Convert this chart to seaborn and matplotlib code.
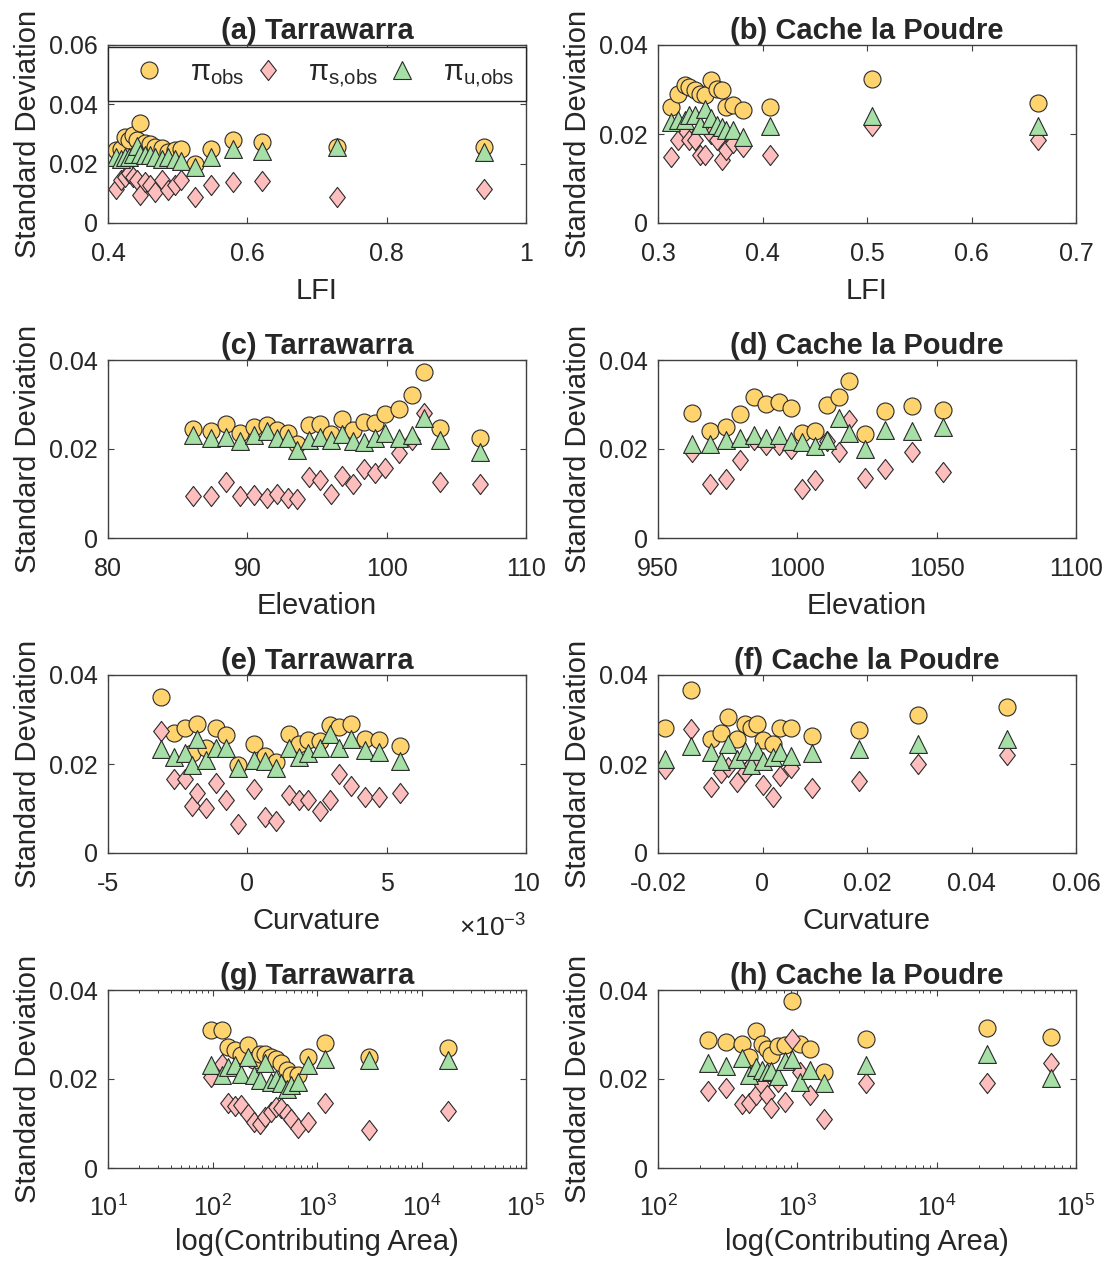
import numpy as np
import pandas as pd
import matplotlib
matplotlib.use("Agg")
import matplotlib.pyplot as plt
import seaborn as sns
from matplotlib.path import Path
from matplotlib.lines import Line2D
from matplotlib.ticker import FuncFormatter, FixedLocator, LogLocator, NullFormatter

# ---------------- data ----------------
# (a) Tarrawarra - LFI
a_x = [0.412, 0.418, 0.424, 0.430, 0.436, 0.442, 0.446, 0.453, 0.460, 0.467,
       0.477, 0.486, 0.496, 0.505, 0.525, 0.548, 0.579, 0.621, 0.728, 0.939]
a_obs = [0.0245, 0.0251, 0.0290, 0.0280, 0.0296, 0.0280, 0.0336, 0.0268, 0.0266, 0.0257,
         0.0254, 0.0240, 0.0245, 0.0251, 0.0200, 0.0251, 0.0279, 0.0274, 0.0257, 0.0257]
a_s = [0.0116, 0.0144, 0.0155, 0.0167, 0.0155, 0.0144, 0.0093, 0.0138, 0.0127, 0.0105,
       0.0144, 0.0110, 0.0127, 0.0144, 0.0088, 0.0127, 0.0138, 0.0142, 0.0086, 0.0116]
a_u = [0.0223, 0.0217, 0.0223, 0.0223, 0.0234, 0.0259, 0.0234, 0.0229, 0.0229, 0.0223,
       0.0217, 0.0223, 0.0217, 0.0209, 0.0189, 0.0223, 0.0251, 0.0243, 0.0257, 0.0240]

# (b) Cache la Poudre - LFI
b_x = [0.312, 0.319, 0.3255, 0.330, 0.335, 0.340, 0.345, 0.351, 0.356, 0.361,
       0.365, 0.372, 0.381, 0.407, 0.505, 0.664]
b_obs = [0.0261, 0.0291, 0.0310, 0.0306, 0.0299, 0.0291, 0.0287, 0.0321, 0.0302, 0.0299,
         0.0261, 0.0265, 0.0255, 0.0261, 0.0323, 0.0269]
b_s = [0.0149, 0.0186, 0.0209, 0.0186, 0.0186, 0.0152, 0.0152, 0.0201, 0.0186, 0.0141,
       0.0164, 0.0179, 0.0170, 0.0152, 0.0218, 0.0186]
b_u = [0.0227, 0.0231, 0.0231, 0.0242, 0.0242, 0.0220, 0.0257, 0.0235, 0.0220, 0.0215,
       0.0210, 0.0209, 0.0194, 0.0218, 0.0240, 0.0218]

# (c) Tarrawarra - Elevation
c_x = [86.1, 87.4, 88.45, 89.5, 90.5, 91.4, 92.1, 92.9, 93.6, 94.4, 95.2,
       96.0, 96.8, 97.6, 98.4, 99.15, 99.9, 100.9, 101.8, 102.7, 103.8, 106.7]
c_obs = [0.0246, 0.0240, 0.0256, 0.0235, 0.0250, 0.0254, 0.0242, 0.0237, 0.0212, 0.0255, 0.0257,
         0.0233, 0.0267, 0.0242, 0.0260, 0.0259, 0.0278, 0.0290, 0.0321, 0.0374, 0.0248, 0.0224]
c_s = [0.0094, 0.0094, 0.0126, 0.0094, 0.0096, 0.0089, 0.0098, 0.0090, 0.0087, 0.0137, 0.0130,
       0.0098, 0.0140, 0.0122, 0.0156, 0.0145, 0.0158, 0.0190, 0.0220, 0.0282, 0.0125, 0.0122]
c_u = [0.0231, 0.0224, 0.0227, 0.0218, 0.0231, 0.0240, 0.0225, 0.0224, 0.0197, 0.0220, 0.0227,
       0.0220, 0.0233, 0.0218, 0.0215, 0.0224, 0.0235, 0.0225, 0.0231, 0.0269, 0.0220, 0.0194]

# (d) Cache la Poudre - Elevation
d_x = [962.3, 968.6, 974.5, 979.3, 984.4, 988.7, 993.5, 997.8, 1001.8, 1006.5,
       1010.7, 1014.9, 1018.6, 1024.2, 1031.6, 1041.2, 1052.1]
d_obs = [0.0280, 0.0240, 0.0250, 0.0278, 0.0317, 0.0302, 0.0306, 0.0293, 0.0236, 0.0240,
         0.0300, 0.0317, 0.0353, 0.0233, 0.0285, 0.0297, 0.0287]
d_s = [0.0194, 0.0122, 0.0132, 0.0175, 0.0220, 0.0210, 0.0209, 0.0201, 0.0110, 0.0130,
       0.0218, 0.0194, 0.0265, 0.0134, 0.0156, 0.0194, 0.0149]
d_u = [0.0212, 0.0212, 0.0220, 0.0224, 0.0231, 0.0225, 0.0231, 0.0218, 0.0215, 0.0207,
       0.0220, 0.0270, 0.0235, 0.0200, 0.0242, 0.0240, 0.0250]

# (e) Tarrawarra - Curvature (x10^-3)
e_x = [-3.109, -2.642, -2.247, -1.972, -1.792, -1.469, -1.134, -0.775, -0.332, 0.231, 0.650,
       1.045, 1.488, 1.847, 2.182, 2.625, 2.960, 3.295, 3.738, 4.217, 4.732, 5.474]
e_obs = [0.0351, 0.0269, 0.0280, 0.0224, 0.0290, 0.0235, 0.0282, 0.0265, 0.0197, 0.0246, 0.0218,
         0.0205, 0.0267, 0.0245, 0.0254, 0.0252, 0.0287, 0.0284, 0.0290, 0.0257, 0.0254, 0.0240]
e_s = [0.0275, 0.0167, 0.0167, 0.0105, 0.0135, 0.0102, 0.0158, 0.0119, 0.0065, 0.0143, 0.0080,
       0.0072, 0.0130, 0.0119, 0.0120, 0.0095, 0.0120, 0.0177, 0.0150, 0.0125, 0.0126, 0.0134]
e_u = [0.0233, 0.0215, 0.0224, 0.0197, 0.0257, 0.0210, 0.0235, 0.0237, 0.0190, 0.0209, 0.0207,
       0.0192, 0.0237, 0.0215, 0.0225, 0.0235, 0.0267, 0.0235, 0.0257, 0.0231, 0.0227, 0.0207]

# (f) Cache la Poudre - Curvature
f_x = [-0.01872, -0.01362, -0.00978, -0.00787, -0.00659, -0.00487, -0.00340, -0.00212, -0.00104,
       0.00011, 0.00203, 0.00331, 0.00554, 0.00956, 0.0185, 0.0298, 0.0467]
f_obs = [0.0282, 0.0366, 0.0257, 0.0269, 0.0306, 0.0257, 0.0291, 0.0280, 0.0290,
         0.0254, 0.0245, 0.0280, 0.0280, 0.0263, 0.0276, 0.0310, 0.0327]
f_s = [0.0188, 0.0278, 0.0149, 0.0179, 0.0194, 0.0160, 0.0182, 0.0197, 0.0209,
       0.0152, 0.0126, 0.0173, 0.0190, 0.0145, 0.0162, 0.0200, 0.0220]
f_u = [0.0212, 0.0240, 0.0227, 0.0207, 0.0246, 0.0212, 0.0230, 0.0197, 0.0230,
       0.0207, 0.0215, 0.0227, 0.0218, 0.0225, 0.0233, 0.0245, 0.0257]

# (g) Tarrawarra - Contributing area
g_x = [97.8, 124, 141, 163, 189, 219, 248, 284, 316, 359, 403, 457, 511, 570, 661, 823,
       1189, 3160, 18030]
g_obs = [0.0310, 0.0310, 0.0272, 0.0265, 0.0254, 0.0276, 0.0242, 0.0257, 0.0257, 0.0250,
         0.0246, 0.0235, 0.0220, 0.0210, 0.0209, 0.0250, 0.0280, 0.0250, 0.0269]
g_s = [0.0205, 0.0233, 0.0145, 0.0140, 0.0141, 0.0122, 0.0104, 0.0100, 0.0115, 0.0126,
       0.0137, 0.0134, 0.0122, 0.0111, 0.0089, 0.0104, 0.0145, 0.0085, 0.0128]
g_u = [0.0231, 0.0210, 0.0227, 0.0231, 0.0212, 0.0250, 0.0209, 0.0197, 0.0235, 0.0194,
       0.0201, 0.0190, 0.0177, 0.0186, 0.0194, 0.0231, 0.0246, 0.0242, 0.0242]

# (h) Cache la Poudre - Contributing area
h_x = [229, 310, 403, 451, 509, 561, 606, 652, 728, 812, 922, 1053, 1242, 1548, 3105,
       22800, 65800]
h_obs = [0.0287, 0.0284, 0.0278, 0.0250, 0.0308, 0.0278, 0.0267, 0.0254, 0.0274, 0.0276,
         0.0375, 0.0278, 0.0267, 0.0215, 0.0291, 0.0315, 0.0295]
h_s = [0.0173, 0.0179, 0.0143, 0.0145, 0.0164, 0.0186, 0.0164, 0.0135, 0.0194, 0.0149,
       0.0291, 0.0216, 0.0165, 0.0111, 0.0192, 0.0192, 0.0235]
h_u = [0.0235, 0.0230, 0.0248, 0.0209, 0.0227, 0.0220, 0.0216, 0.0218, 0.0207, 0.0240,
       0.0245, 0.0194, 0.0220, 0.0190, 0.0231, 0.0257, 0.0203]

titles = ["(a) Tarrawarra", "(b) Cache la Poudre", "(c) Tarrawarra", "(d) Cache la Poudre",
          "(e) Tarrawarra", "(f) Cache la Poudre", "(g) Tarrawarra", "(h) Cache la Poudre"]
xlabels = ["LFI", "LFI", "Elevation", "Elevation", "Curvature", "Curvature",
           "log(Contributing Area)", "log(Contributing Area)"]
legend_labels = [r"$\pi_{\mathrm{obs}}$", r"$\pi_{\mathrm{s{,}obs}}$", r"$\pi_{\mathrm{u{,}obs}}$"]

# ---------------- style ----------------
sns.set_style("ticks")
TXT = "#262626"
plt.rcParams.update({
    "font.family": ["Liberation Sans", "DejaVu Sans"],
    "mathtext.fontset": "custom",
    "mathtext.rm": "Liberation Sans",
    "mathtext.it": "Liberation Sans",
    "mathtext.bf": "Liberation Sans:bold",
    "xtick.direction": "in", "ytick.direction": "in",
    "xtick.top": True, "ytick.right": True,
    "xtick.bottom": True, "ytick.left": True,
    "xtick.major.size": 4, "ytick.major.size": 4,
    "xtick.minor.size": 2.2, "ytick.minor.size": 2.2,
    "xtick.major.width": 0.8, "ytick.major.width": 0.8,
    "xtick.minor.width": 0.7,
    "xtick.color": "#404040", "ytick.color": "#404040",
    "xtick.labelcolor": TXT, "ytick.labelcolor": TXT,
    "axes.edgecolor": "#404040", "axes.linewidth": 1.0,
    "axes.labelcolor": TXT, "text.color": TXT,
})

C_OBS = "#FFD36E"
C_S = "#FFBEBE"
C_U = "#A6E0A6"
EDGE = "#2a2a2a"
DIAMOND = Path([(0, 1), (0.78, 0), (0, -1), (-0.78, 0), (0, 1)],
               [Path.MOVETO, Path.LINETO, Path.LINETO, Path.LINETO, Path.CLOSEPOLY])
S_OBS, S_S, S_U = 150, 210, 165

fig = plt.figure(figsize=(11.07, 12.62), dpi=100)
W, H = 1107, 1262
lefts = [108, 658]
tops = [45, 360, 675, 990]
aw, ah = 418, 178

panels = [
    (a_x, a_obs, a_s, a_u, (0.4, 1.0), [0.4, 0.6, 0.8, 1.0], False, 0.06),
    (b_x, b_obs, b_s, b_u, (0.3, 0.7), [0.3, 0.4, 0.5, 0.6, 0.7], False, 0.04),
    (c_x, c_obs, c_s, c_u, (80, 110), [80, 90, 100, 110], False, 0.04),
    (d_x, d_obs, d_s, d_u, (950, 1100), [950, 1000, 1050, 1100], False, 0.04),
    (e_x, e_obs, e_s, e_u, (-5, 10), [-5, 0, 5, 10], False, 0.04),
    (f_x, f_obs, f_s, f_u, (-0.02, 0.06), [-0.02, 0, 0.02, 0.04, 0.06], False, 0.04),
    (g_x, g_obs, g_s, g_u, (10, 1e5), None, True, 0.04),
    (h_x, h_obs, h_s, h_u, (100, 1e5), None, True, 0.04),
]

fmt = FuncFormatter(lambda v, p: "%g" % round(v, 6))

for i, (x, obs, s, u, xlim, xticks, logx, ymax) in enumerate(panels):
    r, c = divmod(i, 2)
    ax = fig.add_axes([lefts[c] / W, 1 - (tops[r] + ah) / H, aw / W, ah / H])
    if logx:
        ax.set_xscale("log")
    df = pd.DataFrame({"x": x, "obs": obs, "s": s, "u": u})
    sns.scatterplot(data=df, x="x", y="obs", ax=ax, marker="o", s=S_OBS, color=C_OBS,
                    edgecolor=EDGE, linewidth=0.8, legend=False, zorder=3)
    sns.scatterplot(data=df, x="x", y="s", ax=ax, marker=DIAMOND, s=S_S, color=C_S,
                    edgecolor=EDGE, linewidth=0.8, legend=False, zorder=4)
    sns.scatterplot(data=df, x="x", y="u", ax=ax, marker="^", s=S_U, color=C_U,
                    edgecolor=EDGE, linewidth=0.8, legend=False, zorder=5)
    ax.set_xlim(*xlim)
    ax.set_ylim(0, ymax)
    yt = [0, 0.02, 0.04, 0.06] if ymax > 0.05 else [0, 0.02, 0.04]
    ax.yaxis.set_major_locator(FixedLocator(yt))
    ax.yaxis.set_major_formatter(fmt)
    if logx:
        ax.xaxis.set_major_locator(LogLocator(base=10, numticks=10))
        ax.xaxis.set_minor_locator(LogLocator(base=10, subs=np.arange(2, 10), numticks=20))
        ax.xaxis.set_minor_formatter(NullFormatter())
        xpad, lpad = 19, 5
    else:
        ax.xaxis.set_major_locator(FixedLocator(xticks))
        ax.xaxis.set_major_formatter(fmt)
        xpad, lpad = 13.5, 8
    ax.tick_params(axis="x", which="both", labelsize=18, pad=xpad)
    ax.tick_params(axis="y", which="both", labelsize=18, pad=7.5)
    ax.set_xlabel(xlabels[i], fontsize=21, labelpad=lpad)
    ax.set_ylabel("Standard Deviation", fontsize=21, labelpad=5)
    ax.set_title(titles[i], fontsize=21, fontweight="bold", pad=3)
    ax.grid(False)
    for sp in ax.spines.values():
        sp.set_visible(True)
        sp.set_zorder(6)
    if i == 0:
        proxies = [
            Line2D([], [], ls="none", marker="o", markersize=np.sqrt(S_OBS), markerfacecolor=C_OBS,
                   markeredgecolor=EDGE, markeredgewidth=0.8),
            Line2D([], [], ls="none", marker=DIAMOND, markersize=np.sqrt(S_S), markerfacecolor=C_S,
                   markeredgecolor=EDGE, markeredgewidth=0.8),
            Line2D([], [], ls="none", marker="^", markersize=np.sqrt(S_U), markerfacecolor=C_U,
                   markeredgecolor=EDGE, markeredgewidth=0.8),
        ]
        leg = ax.legend(proxies, legend_labels, loc="upper left", bbox_to_anchor=(0, 0.99, 1, 0.0),
                        ncol=3, mode="expand", fontsize=21, frameon=True, fancybox=False,
                        edgecolor="#262626", framealpha=1, borderaxespad=0.0,
                        handlelength=2.0, handletextpad=0.4, borderpad=0.4)
        leg.get_frame().set_linewidth(1.0)
        leg.set_zorder(10)
    if i == 4:
        ax.text(1.0, -0.42, r"$\times10^{-3}$", transform=ax.transAxes, ha="right",
                va="center", fontsize=19, color=TXT)

fig.savefig("out.png", dpi=100)
